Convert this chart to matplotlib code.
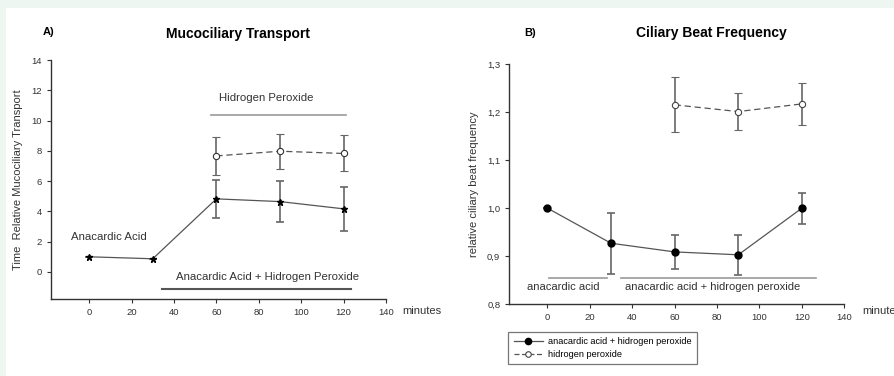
import matplotlib.pyplot as plt
from matplotlib.patches import Rectangle
from matplotlib.lines import Line2D
from matplotlib.ticker import FuncFormatter

plt.rcParams['font.family'] = ['Liberation Sans', 'DejaVu Sans']

# Panel A: Mucociliary Transport
minutes_a = [0, 30, 60, 90, 120]
mct_aa_h2o2 = [0.99, 0.86, 4.82, 4.64, 4.16]
mct_aa_h2o2_err = [0, 0, 1.25, 1.35, 1.45]
minutes_h2o2 = [60, 90, 120]
mct_h2o2 = [7.66, 7.97, 7.82]
mct_h2o2_err = [1.26, 1.17, 1.19]

# Panel B: Ciliary Beat Frequency
minutes_b = [0, 30, 60, 90, 120]
cbf_aa_h2o2 = [1.000, 0.927, 0.909, 0.903, 1.000]
cbf_aa_h2o2_err = [0, 0.063, 0.035, 0.042, 0.032]
cbf_h2o2 = [1.215, 1.201, 1.217]
cbf_h2o2_err = [0.057, 0.038, 0.043]

x_ticks = [0, 20, 40, 60, 80, 100, 120, 140]

fig = plt.figure(figsize=(8.94, 3.76), dpi=100, facecolor='white')
# mint border at top and left
fig.patches.append(Rectangle((0, 0), 6 / 894, 1, transform=fig.transFigure,
                             facecolor='#eef6f2', edgecolor='none', zorder=0))
fig.patches.append(Rectangle((0, 1 - 8 / 376), 1, 8 / 376, transform=fig.transFigure,
                             facecolor='#eef6f2', edgecolor='none', zorder=0))

line_c = '#555555'
err_c = '#666666'
txt_c = '#333333'

# ---------- A ----------
ax1 = fig.add_axes([0.0570, 0.2048, 0.3748, 0.6356])
ax1.set_xlim(-18, 140)
ax1.set_ylim(-1.8, 14)
ax1.errorbar(minutes_h2o2, mct_h2o2, yerr=mct_h2o2_err, color=line_c, ls=(0, (5, 3)), lw=0.9,
             marker='o', ms=4.5, mfc='white', mec='#333333', mew=0.8,
             ecolor=err_c, elinewidth=1.2, capsize=3, capthick=1.2)
ax1.errorbar(minutes_a, mct_aa_h2o2, yerr=mct_aa_h2o2_err, color=line_c, lw=0.9,
             marker='*', ms=5, mfc='black', mec='black',
             ecolor=err_c, elinewidth=1.2, capsize=3, capthick=1.2)
ax1.plot([57.4, 121], [10.35, 10.35], color='#999999', lw=1.2)
ax1.plot([34.4, 123.4], [-1.17, -1.17], color='#555555', lw=1.5)
ax1.text(83.7, 11.5, 'Hidrogen Peroxide', ha='center', va='center', fontsize=8.2, color=txt_c)
ax1.text(84.3, -0.33, 'Anacardic Acid + Hidrogen Peroxide', ha='center', va='center',
         fontsize=8.2, color=txt_c)
ax1.text(9.4, 2.3, 'Anacardic Acid', ha='center', va='center', fontsize=8.2, color=txt_c)
ax1.set_yticks(range(0, 15, 2))
ax1.set_xticks(x_ticks)
ax1.set_ylabel('Time  Relative Mucociliary Transport', fontsize=8, color=txt_c, labelpad=6)
fig.text(43 / 894, 1 - 32 / 376, 'A)', fontsize=8, fontweight='bold', ha='left', va='center')
fig.text(238 / 894, 1 - 34 / 376, 'Mucociliary Transport', fontsize=10, fontweight='bold',
         ha='center', va='center')
fig.text(402 / 894, 1 - 311 / 376, 'minutes', fontsize=8, color=txt_c, ha='left', va='center')

# ---------- B ----------
ax2 = fig.add_axes([0.5697, 0.1907, 0.3747, 0.6391])
ax2.set_xlim(-18, 140)
ax2.set_ylim(0.8, 1.3)
ax2.errorbar(minutes_b, cbf_aa_h2o2, yerr=cbf_aa_h2o2_err, color=line_c, lw=0.9,
             marker='o', ms=5, mfc='black', mec='black',
             ecolor=err_c, elinewidth=1.2, capsize=3, capthick=1.2)
ax2.errorbar(minutes_h2o2, cbf_h2o2, yerr=cbf_h2o2_err, color=line_c, ls=(0, (5, 3)), lw=0.9,
             marker='o', ms=4.5, mfc='white', mec='#444444', mew=0.8,
             ecolor=err_c, elinewidth=1.2, capsize=3, capthick=1.2)
ax2.plot([0.6, 28.3], [0.855, 0.855], color='#999999', lw=1.2)
ax2.plot([34.6, 126.5], [0.855, 0.855], color='#999999', lw=1.2)
ax2.text(7.6, 0.835, 'anacardic acid', ha='center', va='center', fontsize=8.1, color=txt_c)
ax2.text(78, 0.835, 'anacardic acid + hidrogen peroxide', ha='center', va='center',
         fontsize=8.1, color=txt_c)
ax2.set_yticks([0.8, 0.9, 1.0, 1.1, 1.2, 1.3])
ax2.yaxis.set_major_formatter(FuncFormatter(lambda v, p: f'{v:.1f}'.replace('.', ',')))
ax2.set_xticks(x_ticks)
ax2.set_ylabel('relative ciliary beat frequency', fontsize=8, color=txt_c, labelpad=6)
fig.text(524 / 894, 1 - 33 / 376, 'B)', fontsize=8, fontweight='bold', ha='left', va='center')
fig.text(711 / 894, 1 - 33 / 376, 'Ciliary Beat Frequency', fontsize=10, fontweight='bold',
         ha='center', va='center')
fig.text(862 / 894, 1 - 311 / 376, 'minutes', fontsize=8, color=txt_c, ha='left', va='center')

h1 = Line2D([], [], color=line_c, lw=0.9, marker='o', ms=4.5, mfc='black', mec='black')
h2 = Line2D([], [], color=line_c, lw=0.9, ls=(0, (4, 2)), marker='o', ms=4, mfc='white',
            mec='#444444', mew=0.8)
leg = fig.legend([h1, h2], ['anacardic acid + hidrogen peroxide', 'hidrogen peroxide'],
                 loc='upper left', bbox_to_anchor=(508 / 894, 1 - 332 / 376),
                 fontsize=6.6, fancybox=False, edgecolor='#777777', framealpha=1,
                 handlelength=3.2, handletextpad=0.6, borderpad=0.6, labelspacing=0.35,
                 borderaxespad=0)
leg.get_frame().set_linewidth(0.9)
leg.set_zorder(3)

for ax in (ax1, ax2):
    ax.set_facecolor('none')
    ax.set_zorder(2)
    for s in ('top', 'right'):
        ax.spines[s].set_visible(False)
    for s in ('left', 'bottom'):
        ax.spines[s].set_color('#333333')
        ax.spines[s].set_linewidth(1.0)
    ax.tick_params(labelsize=6.8, colors=txt_c, length=3, width=0.8)

plt.savefig('out.png', dpi=100, facecolor=fig.get_facecolor())
